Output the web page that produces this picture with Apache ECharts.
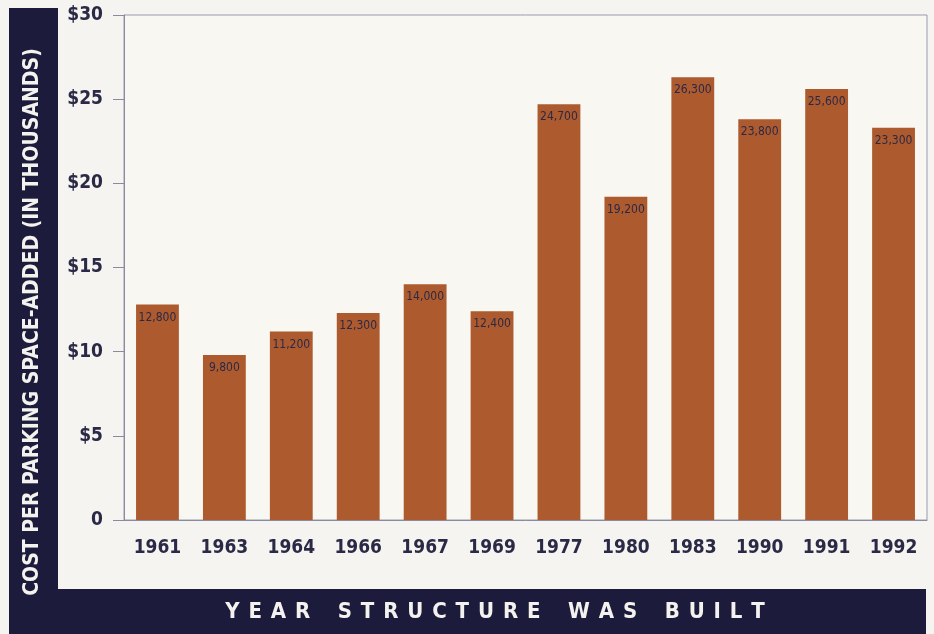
<!DOCTYPE html>
<html>
<head>
<meta charset="utf-8">
<script src="https://cdn.jsdelivr.net/npm/echarts@6/dist/echarts.min.js"></script>
<style>
    html, body { margin: 0; padding: 0; background: #f5f4f0; }
    #chart { width: 934px; height: 634px; }
</style>
</head>
<body>
<div id="chart"></div>
<script>
// years on the x axis
var years = ['1961', '1963', '1964', '1966', '1967', '1969', '1977', '1980', '1983', '1990', '1991', '1992'];
// cost per parking space added, in thousands of dollars
var costs = [12.8, 9.8, 11.2, 12.3, 14.0, 12.4, 24.7, 19.2, 26.3, 23.8, 25.6, 23.3];
var yTicks = [0, 5, 10, 15, 20, 25, 30];

var navy = '#1d1b3b';
var ink = '#2a2946';
var font = '"DejaVu Sans Condensed", "DejaVu Sans", sans-serif';

// spread the letters out like the printed title
function spaced(s) {
    return s.split(' ').map(function (w) {
        return w.split('').join(' \u200A');
    }).join('    ');
}

var chart = echarts.init(document.getElementById('chart'));
var option = {
    backgroundColor: '#f5f4f0',
    animation: false,
    graphic: [
        // navy bands behind axis titles
        { type: 'rect', z: -1, shape: { x: 9, y: 8, width: 49, height: 626 }, style: { fill: navy } },
        { type: 'rect', z: -1, shape: { x: 9, y: 589, width: 917, height: 45 }, style: { fill: navy } },
        {
            type: 'text', x: 33, y: 322, rotation: Math.PI / 2,
            style: {
                text: 'COST PER PARKING SPACE-ADDED (IN THOUSANDS)',
                fill: '#f4f2ee', font: 'bold 21px ' + font,
                align: 'center', verticalAlign: 'middle'
            }
        },
        {
            type: 'text', x: 495, y: 612,
            style: {
                text: spaced('YEAR STRUCTURE WAS BUILT'),
                fill: '#f4f2ee', font: 'bold 22px ' + font,
                align: 'center', verticalAlign: 'middle'
            }
        }
    ],
    grid: {
        left: 124, right: 7, top: 15, bottom: 114,
        show: true,
        backgroundColor: '#f8f7f1',
        borderColor: '#9a9aae',
        borderWidth: 1
    },
    xAxis: {
        type: 'category',
        data: years,
        axisLine: { lineStyle: { color: '#8a8aa0', width: 1 } },
        axisTick: { inside: true, length: 7, lineStyle: { color: '#8a8aa0' } },
        axisLabel: { color: ink, fontSize: 19, fontWeight: 'bold', fontFamily: font, margin: 19 }
    },
    yAxis: {
        type: 'value',
        min: 0, max: 30, interval: 5,
        axisLine: { show: true, lineStyle: { color: '#8a8aa0', width: 1 } },
        axisTick: { show: true, length: 11, lineStyle: { color: '#8a8aa0' } },
        splitLine: { show: false },
        axisLabel: {
            color: ink, fontSize: 19, fontWeight: 'bold', fontFamily: font, margin: 21,
            formatter: function (v) { return v === yTicks[0] ? '0' : '$' + v; }
        }
    },
    series: [{
        type: 'bar',
        data: costs,
        barCategoryGap: '36%',
        itemStyle: { color: '#ae5a2f' },
        label: {
            show: true,
            position: 'insideTop',
            distance: 7,
            color: ink,
            fontSize: 12,
            fontFamily: font,
            formatter: function (p) { return Math.round(p.value * 1000).toLocaleString('en-US'); }
        }
    }]
};
chart.setOption(option);
</script>
</body>
</html>
